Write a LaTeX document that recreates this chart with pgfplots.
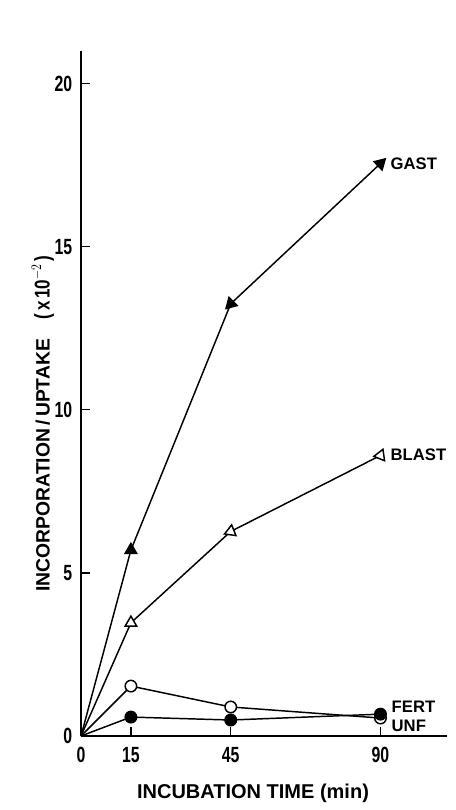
\documentclass[border=0pt]{standalone}
\usepackage{pgfplots}
\pgfplotsset{compat=1.18}
\usepackage{fontspec}
\setmainfont{Liberation Sans}
\begin{document}
\begin{tikzpicture}
\useasboundingbox (-60.75pt,-55.5pt) rectangle (281.25pt,552pt);
\begin{axis}[
  at={(0,0)}, anchor=origin,
  scale only axis,
  width=274.5pt, height=513.75pt,
  xmin=0, xmax=110, ymin=0, ymax=21,
  axis x line=bottom, axis y line=left,
  axis line style={-, black},
  x axis line style={line width=1.4pt},
  y axis line style={line width=2.2pt},
  xtick={0,15,45,90}, ytick={0,5,10,15,20},
  tick align=inside, major tick length=7pt,
  tick style={black, line width=0.9pt},
  /pgf/number format/assume math mode=true,
  xticklabel={\scalebox{0.72}[1]{\fontsize{16.5pt}{18pt}\selectfont\bfseries\pgfmathprintnumber{\tick}}},
  yticklabel={\scalebox{0.72}[1]{\fontsize{16.5pt}{18pt}\selectfont\bfseries\pgfmathprintnumber{\tick}}},
  xticklabel style={yshift=-5pt},
  yticklabel style={xshift=-3pt},
  xlabel={\fontsize{15pt}{17pt}\selectfont\bfseries INCUBATION TIME (min)},
  xlabel style={at={(axis description cs:0.47,-0.083)}, anchor=center},
  ylabel={\fontsize{14.5pt}{16pt}\selectfont\bfseries INCORPORATION\,/\,UPTAKE\quad\scalebox{0.8}[1]{\fontsize{16pt}{18pt}\selectfont(\,x\,10$^{-2}$\,)}},
  ylabel style={at={(axis description cs:-0.104,0.456)}, anchor=center, rotate=0},
  clip=false,
  every axis plot/.append style={black, line width=1.1pt},
]
% GAST
\addplot[mark=none] coordinates {(0,0) (15,5.7) (45,13.25) (90,17.55)};
\addplot[only marks, mark=triangle*, mark size=5pt, mark options={fill=black}] coordinates {(15,5.7)};
\addplot[only marks, mark=triangle*, mark size=5pt, mark options={fill=black, rotate=135}] coordinates {(45,13.25)};
\addplot[only marks, mark=triangle*, mark size=5pt, mark options={fill=black, rotate=-46}] coordinates {(90,17.55)};
% BLAST
\addplot[mark=none] coordinates {(0,0) (15,3.47) (45,6.27) (90,8.6)};
\addplot[only marks, mark=triangle*, mark size=5pt, mark options={fill=white}] coordinates {(15,3.47)};
\addplot[only marks, mark=triangle*, mark size=5pt, mark options={fill=white, rotate=112}] coordinates {(45,6.27)};
\addplot[only marks, mark=triangle*, mark size=5pt, mark options={fill=white, rotate=98}] coordinates {(90,8.6)};
% open circles
\addplot[mark=*, mark indices={2,3,4}, mark size=4.3pt, mark options={fill=white}] coordinates {(0,0) (15,1.53) (45,0.89) (90,0.55)};
% filled circles
\addplot[mark=*, mark indices={2,3,4}, mark size=4.3pt, mark options={fill=black}] coordinates {(0,0) (15,0.58) (45,0.49) (90,0.67)};
% labels
\node[anchor=west, inner sep=0pt, font=\fontsize{12.5pt}{14pt}\selectfont\bfseries] at (axis cs:93,17.55) {GAST};
\node[anchor=west, inner sep=0pt, font=\fontsize{12.5pt}{14pt}\selectfont\bfseries] at (axis cs:93,8.62) {BLAST};
\node[anchor=west, inner sep=0pt, font=\fontsize{12.5pt}{14pt}\selectfont\bfseries] at (axis cs:93.3,0.89) {FERT};
\node[anchor=west, inner sep=0pt, font=\fontsize{12.5pt}{14pt}\selectfont\bfseries] at (axis cs:93.3,0.31) {UNF};
\end{axis}
\end{tikzpicture}
\end{document}
